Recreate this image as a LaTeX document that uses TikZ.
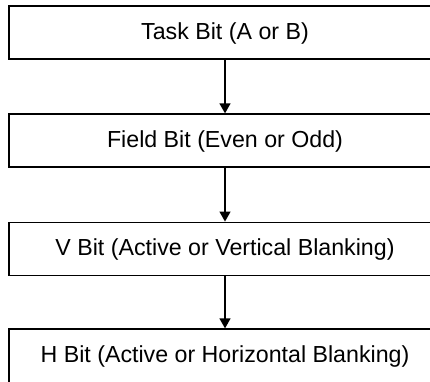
\documentclass[tikz,border=0pt]{standalone}
\usepackage{fontspec}
\setmainfont{Liberation Sans}
\usetikzlibrary{arrows.meta}
\begin{document}
\begin{tikzpicture}[x=1pt,y=-1pt,
  bitbox/.style={draw=black, line width=1.3pt, rectangle,
    minimum width=432pt, minimum height=53pt, inner sep=0pt,
    text height=18pt, text depth=4pt,
    font=\fontsize{23.2}{27}\selectfont},
  flow/.style={draw=black, line width=1.3pt,
    -{Triangle[width=11pt,length=10pt]}}]
\useasboundingbox (0,0) rectangle (430,381);
\clip (0,0) rectangle (430,381);
\fill[white] (0,0) rectangle (430,381);
\node[bitbox] (task)  at (225,32.5)  {Task Bit (A or B)};
\node[bitbox] (field) at (225,140.5) {Field Bit (Even or Odd)};
\node[bitbox] (vbit)  at (225,248.7) {V Bit (Active or Vertical Blanking)};
% the last box runs past the lower edge of the page
\node[bitbox, minimum height=57pt, text height=14.4pt]
  (hbit)  at (225,357.5) {H Bit (Active or Horizontal Blanking)};
\draw[flow] (task.south)  -- (field.north);
\draw[flow] (field.south) -- (vbit.north);
\draw[flow] (vbit.south)  -- (hbit.north);
\end{tikzpicture}
\end{document}
